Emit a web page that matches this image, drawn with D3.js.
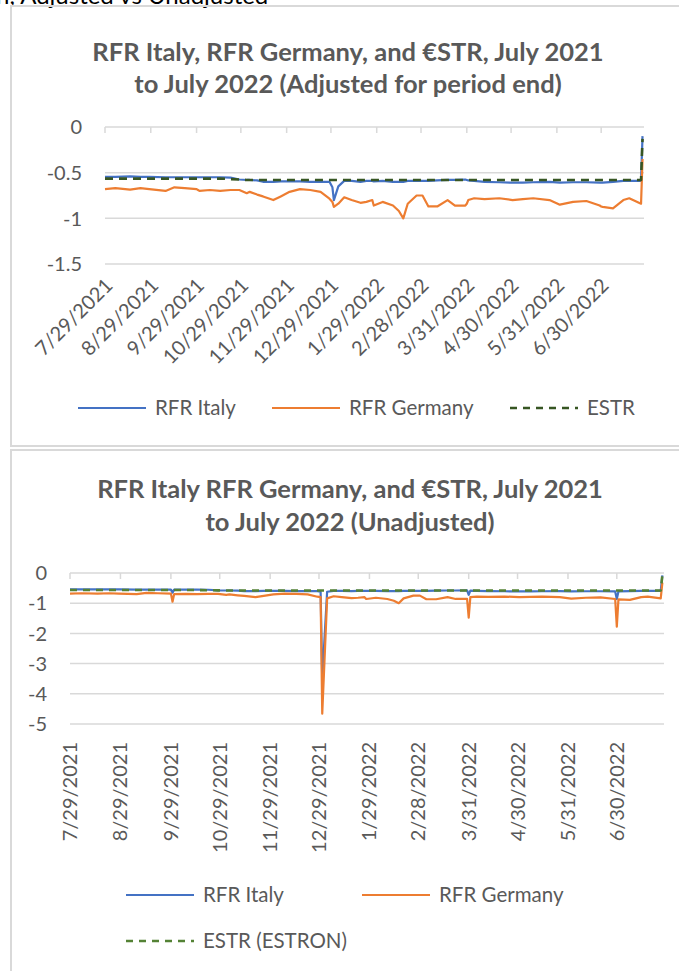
<!DOCTYPE html>
<html><head><meta charset="utf-8">
<script src="https://cdn.jsdelivr.net/npm/d3@7"></script>
<style>
html,body{margin:0;padding:0;background:#fff;}
svg{display:block;font-family:Lato,"Open Sans",sans-serif;}
</style></head><body>
<svg id="c" width="679" height="971"></svg>
<script>
const dates = ["2021-07-29","2021-08-05","2021-08-15","2021-08-22","2021-08-28","2021-09-08","2021-09-14","2021-09-21","2021-09-29","2021-09-30",
"2021-10-01","2021-10-08","2021-10-15","2021-10-22","2021-10-28","2021-11-02","2021-11-04","2021-11-09","2021-11-13","2021-11-20",
"2021-11-25","2021-12-01","2021-12-08","2021-12-15","2021-12-22","2021-12-28","2021-12-30","2021-12-31","2022-01-03","2022-01-07",
"2022-01-12","2022-01-18","2022-01-22","2022-01-26","2022-01-27","2022-02-02","2022-02-09","2022-02-13","2022-02-16","2022-02-19",
"2022-02-25","2022-03-01","2022-03-05","2022-03-11","2022-03-18","2022-03-23","2022-03-30","2022-03-31","2022-04-01","2022-04-05",
"2022-04-12","2022-04-22","2022-05-01","2022-05-08","2022-05-15","2022-05-26","2022-06-02","2022-06-11","2022-06-20","2022-06-29",
"2022-06-30","2022-07-01","2022-07-08","2022-07-15","2022-07-19","2022-07-27","2022-07-28"];

const adjItaly = [-0.545,-0.545,-0.54,-0.545,-0.545,-0.55,-0.55,-0.55,-0.55,-0.55,
-0.55,-0.55,-0.55,-0.555,-0.575,-0.58,-0.58,-0.585,-0.60,-0.60,
-0.595,-0.595,-0.595,-0.60,-0.60,-0.60,-0.66,-0.80,-0.65,-0.59,
-0.59,-0.60,-0.59,-0.59,-0.595,-0.59,-0.60,-0.60,-0.60,-0.59,
-0.59,-0.59,-0.59,-0.585,-0.58,-0.58,-0.575,-0.58,-0.585,-0.59,
-0.60,-0.605,-0.61,-0.61,-0.605,-0.60,-0.61,-0.605,-0.605,-0.61,
-0.61,-0.61,-0.60,-0.59,-0.59,-0.59,-0.10];

const adjGermany = [-0.68,-0.67,-0.685,-0.67,-0.68,-0.70,-0.66,-0.67,-0.68,-0.69,
-0.70,-0.69,-0.70,-0.69,-0.69,-0.725,-0.71,-0.74,-0.76,-0.80,
-0.76,-0.71,-0.68,-0.69,-0.71,-0.785,-0.82,-0.875,-0.84,-0.77,
-0.80,-0.83,-0.82,-0.80,-0.86,-0.82,-0.86,-0.92,-1.00,-0.84,
-0.75,-0.75,-0.87,-0.87,-0.80,-0.86,-0.86,-0.84,-0.80,-0.78,
-0.79,-0.78,-0.80,-0.79,-0.78,-0.80,-0.85,-0.82,-0.81,-0.86,
-0.87,-0.875,-0.89,-0.80,-0.78,-0.84,-0.35];

const adjEstr = [-0.565,-0.565,-0.565,-0.565,-0.565,-0.565,-0.565,-0.565,-0.565,-0.565,
-0.565,-0.565,-0.565,-0.57,-0.575,-0.58,-0.58,-0.58,-0.58,-0.58,
-0.58,-0.58,-0.58,-0.58,-0.58,-0.58,-0.58,-0.58,-0.58,-0.58,
-0.58,-0.58,-0.58,-0.58,-0.58,-0.58,-0.58,-0.58,-0.58,-0.58,
-0.58,-0.58,-0.58,-0.58,-0.58,-0.58,-0.58,-0.58,-0.58,-0.58,
-0.58,-0.58,-0.58,-0.58,-0.58,-0.58,-0.58,-0.58,-0.58,-0.58,
-0.58,-0.58,-0.58,-0.58,-0.58,-0.58,-0.13];

const unadjItaly = [-0.545,-0.545,-0.54,-0.545,-0.545,-0.55,-0.55,-0.55,-0.55,-0.65,
-0.55,-0.55,-0.55,-0.555,-0.575,-0.58,-0.58,-0.585,-0.60,-0.60,
-0.595,-0.595,-0.595,-0.60,-0.60,-0.60,-0.62,-3.50,-0.62,-0.59,
-0.59,-0.60,-0.59,-0.59,-0.595,-0.59,-0.60,-0.60,-0.60,-0.59,
-0.59,-0.59,-0.59,-0.585,-0.58,-0.58,-0.575,-0.72,-0.585,-0.59,
-0.60,-0.605,-0.61,-0.61,-0.605,-0.60,-0.61,-0.605,-0.605,-0.61,
-0.86,-0.61,-0.60,-0.59,-0.59,-0.59,-0.08];

const unadjGermany = [-0.68,-0.67,-0.685,-0.67,-0.68,-0.70,-0.66,-0.67,-0.68,-0.95,
-0.70,-0.69,-0.70,-0.69,-0.69,-0.725,-0.71,-0.74,-0.76,-0.80,
-0.76,-0.71,-0.68,-0.69,-0.71,-0.785,-0.80,-4.66,-0.84,-0.77,
-0.80,-0.83,-0.82,-0.80,-0.86,-0.82,-0.86,-0.92,-1.00,-0.84,
-0.75,-0.75,-0.87,-0.87,-0.80,-0.86,-0.86,-1.48,-0.80,-0.78,
-0.79,-0.78,-0.80,-0.79,-0.78,-0.80,-0.85,-0.82,-0.81,-0.86,
-1.78,-0.875,-0.89,-0.80,-0.78,-0.84,-0.32];

const unadjEstr = [-0.565,-0.565,-0.565,-0.565,-0.565,-0.565,-0.565,-0.565,-0.565,-0.565,
-0.565,-0.565,-0.565,-0.57,-0.575,-0.58,-0.58,-0.58,-0.58,-0.58,
-0.58,-0.58,-0.58,-0.58,-0.58,-0.58,-0.58,-0.58,-0.58,-0.58,
-0.58,-0.58,-0.58,-0.58,-0.58,-0.58,-0.58,-0.58,-0.58,-0.58,
-0.58,-0.58,-0.58,-0.58,-0.58,-0.58,-0.58,-0.58,-0.58,-0.58,
-0.58,-0.58,-0.58,-0.58,-0.58,-0.58,-0.58,-0.58,-0.58,-0.58,
-0.58,-0.58,-0.58,-0.58,-0.58,-0.58,-0.06];

const tickLabels = ["7/29/2021","8/29/2021","9/29/2021","10/29/2021","11/29/2021","12/29/2021",
"1/29/2022","2/28/2022","3/31/2022","4/30/2022","5/31/2022","6/30/2022"];
const yTicks1 = [0,-0.5,-1,-1.5];
const yTicks2 = [0,-1,-2,-3,-4,-5];
const dateDomain = ["2021-07-29","2022-07-29"];

const caption = "n, Adjusted vs Unadjusted";
const title1 = ["RFR Italy, RFR Germany, and €STR, July 2021","to July 2022 (Adjusted for period end)"];
const title2 = ["RFR Italy RFR Germany, and €STR, July 2021","to July 2022 (Unadjusted)"];
const seriesNames1 = ["RFR Italy","RFR Germany","ESTR"];
const seriesNames2 = ["RFR Italy","RFR Germany","ESTR (ESTRON)"];

const parseISO = d3.timeParse("%Y-%m-%d");
const parseUS = d3.timeParse("%m/%d/%Y");
const dateObjs = dates.map(parseISO);
const tickDates = tickLabels.map(parseUS);

const svg = d3.select("#c");
const TXT = "#595959", GRID = "#d9d9d9";
const BLUE = "#4472C4", ORANGE = "#ED7D31";

// partially visible caption above the first chart (cut by the page top, as in the reference)
svg.append("text").attr("x",-4).attr("y",4).attr("font-size",24).attr("fill","#000")
  .text(caption);

// chart frames
svg.append("rect").attr("x",11).attr("y",6).attr("width",700).attr("height",440)
  .attr("fill","none").attr("stroke",GRID).attr("stroke-width",2);
svg.append("rect").attr("x",11).attr("y",450).attr("width",700).attr("height",560)
  .attr("fill","none").attr("stroke",GRID).attr("stroke-width",2);

function drawChart(cfg){
  const g = svg.append("g");
  const x = d3.scaleTime().domain(dateDomain.map(parseISO)).range([cfg.x0,cfg.x1]);
  const y = d3.scaleLinear().domain(cfg.yDomain).range([cfg.yBottom,cfg.yTop]);

  cfg.title.forEach((t,i)=>{
    g.append("text").attr("x",cfg.titleX).attr("y",cfg.titleY + i*cfg.titleGap)
      .attr("text-anchor","middle").attr("font-weight","bold").attr("font-size",cfg.titleSize)
      .attr("fill",TXT).text(t);
  });

  g.selectAll(".grid").data(cfg.yTicks).enter().append("line")
    .attr("x1",cfg.x0).attr("x2",cfg.x1).attr("y1",d=>y(d)).attr("y2",d=>y(d))
    .attr("stroke",GRID).attr("stroke-width",1.5);

  g.selectAll(".yl").data(cfg.yTicks).enter().append("text")
    .attr("x",cfg.yLabelX).attr("y",d=>y(d)).attr("dy","0.36em")
    .attr("text-anchor","end").attr("font-size",cfg.fontSize).attr("fill",TXT)
    .text(d=>String(d));

  g.selectAll(".tk").data(tickDates).enter().append("line")
    .attr("x1",d=>x(d)).attr("x2",d=>x(d)).attr("y1",y(0)).attr("y2",y(0)+6)
    .attr("stroke",GRID).attr("stroke-width",1.5);

  g.selectAll(".xl").data(tickDates).enter().append("text")
    .attr("transform",(d)=>`translate(${x(d)+cfg.xlDx},${cfg.xlY}) rotate(${cfg.xlRot})`)
    .attr("dy",cfg.xlDy).attr("text-anchor","end").attr("font-size",cfg.xlSize).attr("fill",TXT)
    .text((d,i)=>tickLabels[i]);

  const line = d3.line().x((d,i)=>x(dateObjs[i])).y(d=>y(d));
  const series = [
    {v:cfg.italy, c:BLUE, w:2.2, dash:null},
    {v:cfg.germany, c:ORANGE, w:2.2, dash:null},
    {v:cfg.estr, c:cfg.green, w:2.6, dash:cfg.dash}
  ];
  series.forEach(s=>{
    g.append("path").attr("d",line(s.v)).attr("fill","none").attr("stroke",s.c)
      .attr("stroke-width",s.w).attr("stroke-dasharray",s.dash).attr("stroke-linejoin","round");
  });

  cfg.legend.forEach((L,i)=>{
    const s = series[i];
    g.append("line").attr("x1",L.x).attr("x2",L.x+68).attr("y1",L.y).attr("y2",L.y)
      .attr("stroke",s.c).attr("stroke-width",s.dash?2.6:2.2).attr("stroke-dasharray",s.dash?"7,6":null);
    g.append("text").attr("x",L.x+77).attr("y",L.y).attr("dy","0.36em")
      .attr("font-size",cfg.legendSize).attr("fill",TXT).text(cfg.names[i]);
  });
}

drawChart({
  title:title1, titleX:348, titleY:61, titleGap:32, titleSize:25.5,
  x0:105, x1:644, yDomain:[-1.5,0], yBottom:264, yTop:127, yTicks:yTicks1, yLabelX:82,
  fontSize:20, xlSize:20, xlDx:6, xlY:284, xlRot:-45, xlDy:"0.2em", legendSize:20.5,
  italy:adjItaly, germany:adjGermany, estr:adjEstr, green:"#375623", dash:"8,6",
  names:seriesNames1,
  legend:[{x:78,y:408},{x:272,y:408},{x:510,y:408}]
});

drawChart({
  title:title2, titleX:350, titleY:498, titleGap:33, titleSize:25.5,
  x0:70, x1:664, yDomain:[-5,0], yBottom:724, yTop:573, yTicks:yTicks2, yLabelX:47,
  fontSize:20, xlSize:20, xlDx:0, xlY:742, xlRot:-90, xlDy:"0.35em", legendSize:20.5,
  italy:unadjItaly, germany:unadjGermany, estr:unadjEstr, green:"#548235", dash:"7,6",
  names:seriesNames2,
  legend:[{x:126,y:895},{x:362,y:895},{x:126,y:941}]
});
</script>
</body></html>
